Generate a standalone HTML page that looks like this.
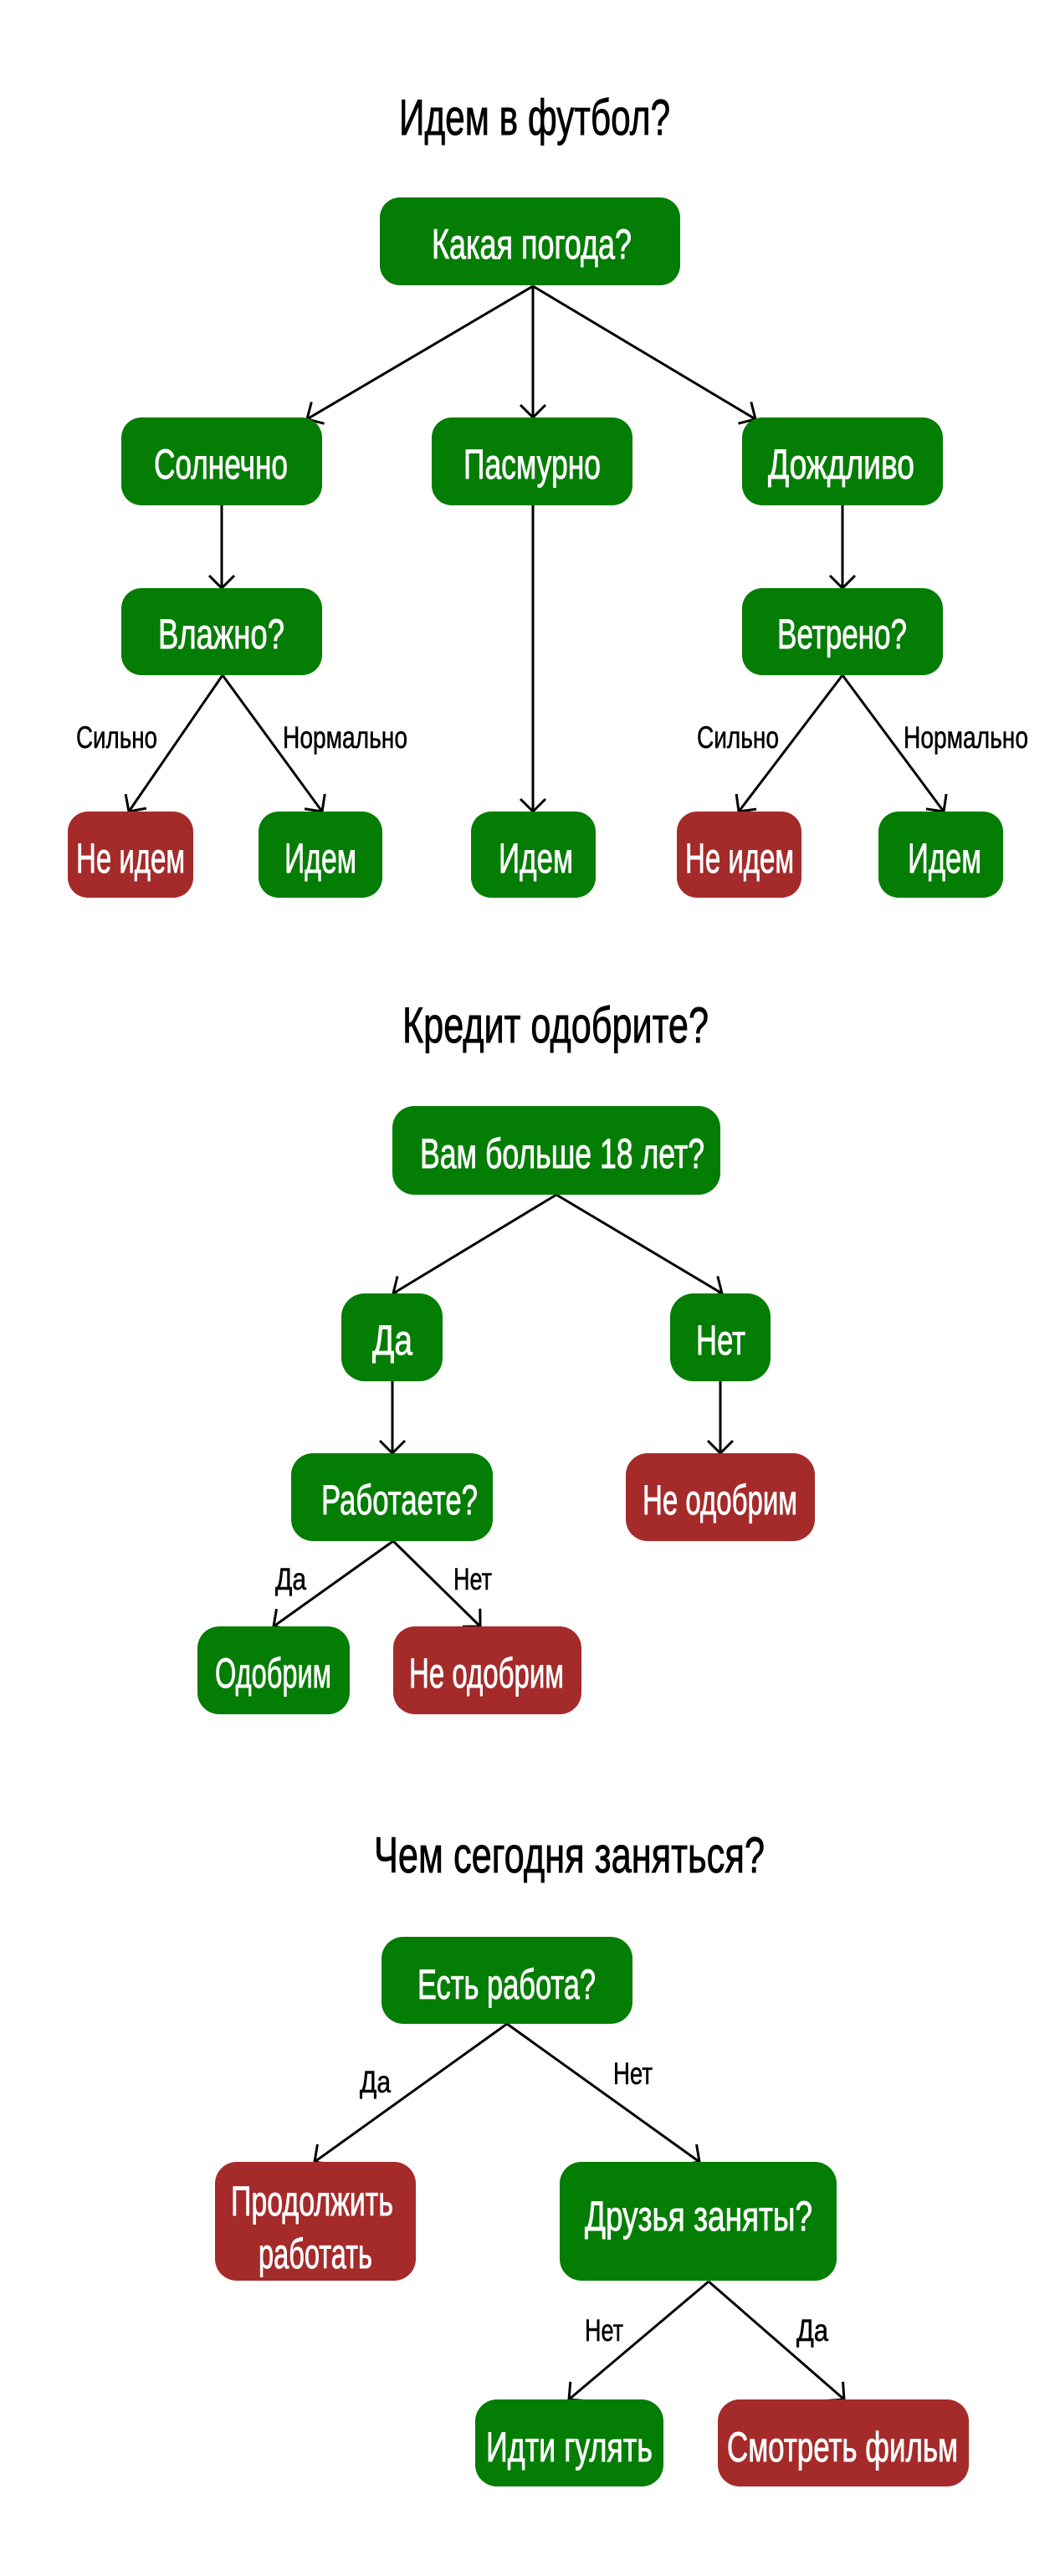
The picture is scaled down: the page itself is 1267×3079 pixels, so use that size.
<!DOCTYPE html>
<html><head><meta charset="utf-8"><style>
html,body{margin:0;padding:0;background:#fff;}
svg{display:block;}
text{font-family:"Liberation Sans Narrow","Liberation Sans","Noto Sans CJK SC",sans-serif;}
.n{fill:#fff;stroke:#fff;stroke-width:0.9;font-size:50px;}
.l{fill:#000;stroke:#000;stroke-width:0.6;font-size:37px;}
.t{fill:#000;stroke:#000;stroke-width:0.9;font-size:60px;}
.g{fill:#037d03;}
.r{fill:#a52a2a;}
.e{stroke:#000;stroke-width:3;fill:none;marker-end:url(#a);}
</style></head><body>
<svg width="1267" height="3079" viewBox="0 0 1267 3079" xmlns="http://www.w3.org/2000/svg">
<defs><marker id="a" viewBox="0 0 20 40" refX="18" refY="20" markerWidth="20" markerHeight="40" markerUnits="userSpaceOnUse" orient="auto"><path d="M3,5 L18,20 L3,35" fill="none" stroke="#000" stroke-width="3"/></marker></defs>

<!-- Section 1 -->
<text class="t" x="477" y="161" textLength="324" lengthAdjust="spacingAndGlyphs">Идем в футбол?</text>
<path class="e" d="M637,342 L367,501"/>
<path class="e" d="M637,342 L637,499"/>
<path class="e" d="M637,342 L903,501"/>
<path class="e" d="M265,604 L265,703"/>
<path class="e" d="M1007,604 L1007,703"/>
<path class="e" d="M266,807 L154,970"/>
<path class="e" d="M266,807 L385,970"/>
<path class="e" d="M637,604 L637,970"/>
<path class="e" d="M1007,807 L883,970"/>
<path class="e" d="M1007,807 L1128,970"/>
<rect class="g" x="454" y="236" width="359" height="105" rx="24"/>
<text class="n" x="516" y="309" textLength="239" lengthAdjust="spacingAndGlyphs">Какая погода?</text>
<rect class="g" x="145" y="499" width="240" height="105" rx="24"/>
<text class="n" x="184" y="572" textLength="160" lengthAdjust="spacingAndGlyphs">Солнечно</text>
<rect class="g" x="516" y="499" width="240" height="105" rx="24"/>
<text class="n" x="554" y="572" textLength="164" lengthAdjust="spacingAndGlyphs">Пасмурно</text>
<rect class="g" x="887" y="499" width="240" height="105" rx="24"/>
<text class="n" x="918" y="572" textLength="175" lengthAdjust="spacingAndGlyphs">Дождливо</text>
<rect class="g" x="145" y="703" width="240" height="104" rx="24"/>
<text class="n" x="189" y="775" textLength="151" lengthAdjust="spacingAndGlyphs">Влажно?</text>
<rect class="g" x="887" y="703" width="240" height="104" rx="24"/>
<text class="n" x="929" y="775" textLength="155" lengthAdjust="spacingAndGlyphs">Ветрено?</text>
<text class="l" x="91" y="894" textLength="97" lengthAdjust="spacingAndGlyphs">Сильно</text>
<text class="l" x="338" y="894" textLength="149" lengthAdjust="spacingAndGlyphs">Нормально</text>
<text class="l" x="833" y="894" textLength="98" lengthAdjust="spacingAndGlyphs">Сильно</text>
<text class="l" x="1080" y="894" textLength="149" lengthAdjust="spacingAndGlyphs">Нормально</text>
<rect class="r" x="81" y="970" width="150" height="103" rx="24"/>
<text class="n" x="91" y="1043" textLength="130" lengthAdjust="spacingAndGlyphs">Не идем</text>
<rect class="g" x="309" y="970" width="148" height="103" rx="24"/>
<text class="n" x="340" y="1043" textLength="86" lengthAdjust="spacingAndGlyphs">Идем</text>
<rect class="g" x="563" y="970" width="149" height="103" rx="24"/>
<text class="n" x="596" y="1043" textLength="89" lengthAdjust="spacingAndGlyphs">Идем</text>
<rect class="r" x="809" y="970" width="149" height="103" rx="24"/>
<text class="n" x="819" y="1043" textLength="130" lengthAdjust="spacingAndGlyphs">Не идем</text>
<rect class="g" x="1050" y="970" width="149" height="103" rx="24"/>
<text class="n" x="1085" y="1043" textLength="88" lengthAdjust="spacingAndGlyphs">Идем</text>

<!-- Section 2 -->
<text class="t" x="481" y="1246" textLength="366" lengthAdjust="spacingAndGlyphs">Кредит одобрите?</text>
<path class="e" d="M665,1428 L470,1546"/>
<path class="e" d="M665,1428 L863,1546"/>
<path class="e" d="M469,1651 L469,1737"/>
<path class="e" d="M861,1651 L861,1737"/>
<path class="e" d="M470,1842 L327,1944"/>
<path class="e" d="M470,1842 L574,1944"/>
<rect class="g" x="469" y="1322" width="392" height="106" rx="26"/>
<text class="n" x="502" y="1396" textLength="340" lengthAdjust="spacingAndGlyphs">Вам больше 18 лет?</text>
<rect class="g" x="408" y="1546" width="121" height="105" rx="28"/>
<text class="n" x="445" y="1619" textLength="48" lengthAdjust="spacingAndGlyphs">Да</text>
<rect class="g" x="801" y="1546" width="120" height="105" rx="28"/>
<text class="n" x="832" y="1619" textLength="59" lengthAdjust="spacingAndGlyphs">Нет</text>
<rect class="g" x="348" y="1737" width="241" height="105" rx="26"/>
<text class="n" x="384" y="1810" textLength="187" lengthAdjust="spacingAndGlyphs">Работаете?</text>
<rect class="r" x="748" y="1737" width="226" height="105" rx="26"/>
<text class="n" x="768" y="1810" textLength="185" lengthAdjust="spacingAndGlyphs">Не одобрим</text>
<text class="l" x="329" y="1900" textLength="37" lengthAdjust="spacingAndGlyphs">Да</text>
<text class="l" x="542" y="1900" textLength="46" lengthAdjust="spacingAndGlyphs">Нет</text>
<rect class="g" x="236" y="1944" width="182" height="105" rx="26"/>
<text class="n" x="257" y="2017" textLength="139" lengthAdjust="spacingAndGlyphs">Одобрим</text>
<rect class="r" x="470" y="1944" width="225" height="105" rx="26"/>
<text class="n" x="489" y="2017" textLength="185" lengthAdjust="spacingAndGlyphs">Не одобрим</text>

<!-- Section 3 -->
<text class="t" x="447" y="2238" textLength="467" lengthAdjust="spacingAndGlyphs">Чем сегодня заняться?</text>
<path class="e" d="M606,2419 L376,2584"/>
<path class="e" d="M606,2419 L836,2584"/>
<path class="e" d="M847,2727 L680,2868"/>
<path class="e" d="M847,2727 L1009,2868"/>
<text class="l" x="430" y="2501" textLength="37" lengthAdjust="spacingAndGlyphs">Да</text>
<text class="l" x="733" y="2491" textLength="47" lengthAdjust="spacingAndGlyphs">Нет</text>
<rect class="g" x="456" y="2315" width="300" height="104" rx="26"/>
<text class="n" x="499" y="2389" textLength="213" lengthAdjust="spacingAndGlyphs">Есть работа?</text>
<rect class="r" x="257" y="2584" width="240" height="142" rx="26"/>
<text class="n" x="276" y="2648" textLength="194" lengthAdjust="spacingAndGlyphs">Продолжить</text>
<text class="n" x="309" y="2711" textLength="136" lengthAdjust="spacingAndGlyphs">работать</text>
<rect class="g" x="669" y="2584" width="331" height="142" rx="26"/>
<text class="n" x="699" y="2666" textLength="272" lengthAdjust="spacingAndGlyphs">Друзья заняты?</text>
<text class="l" x="699" y="2798" textLength="46" lengthAdjust="spacingAndGlyphs">Нет</text>
<text class="l" x="952" y="2798" textLength="38" lengthAdjust="spacingAndGlyphs">Да</text>
<rect class="g" x="568" y="2868" width="225" height="104" rx="26"/>
<text class="n" x="581" y="2942" textLength="199" lengthAdjust="spacingAndGlyphs">Идти гулять</text>
<rect class="r" x="858" y="2868" width="300" height="104" rx="26"/>
<text class="n" x="869" y="2942" textLength="276" lengthAdjust="spacingAndGlyphs">Смотреть фильм</text>
</svg>
</body></html>
